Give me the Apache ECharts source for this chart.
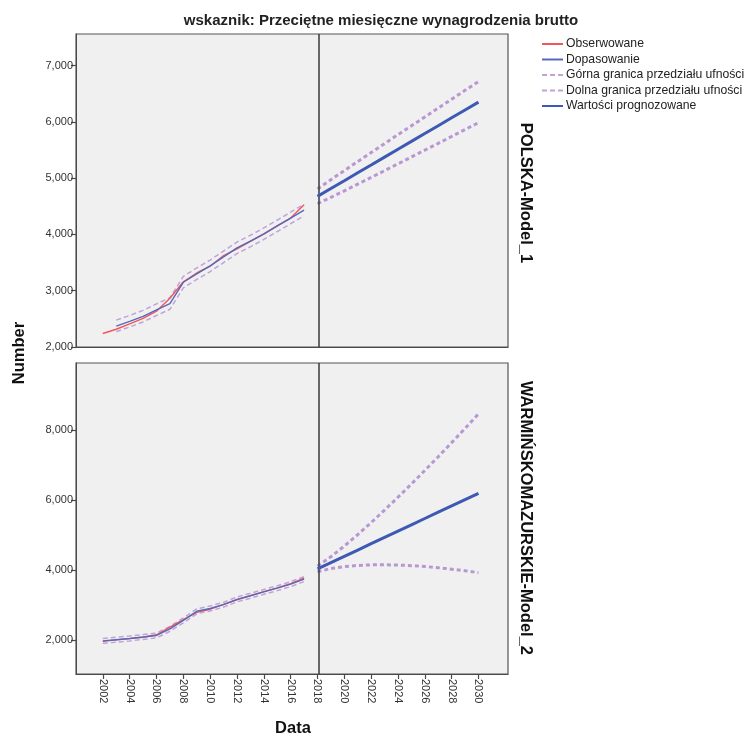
<!DOCTYPE html>
<html>
<head>
<meta charset="utf-8">
<script src="https://cdn.jsdelivr.net/npm/echarts@6/dist/echarts.min.js"></script>
<style>
html,body{margin:0;padding:0;background:#fff;}
#c{width:751px;height:735px;}
</style>
</head>
<body>
<div id="c"></div>
<script>
// ---------- data ----------
const yearsObs = [2002,2003,2004,2005,2006,2007,2008,2009,2010,2011,2012,2013,2014,2015,2016,2017];
const yearsFit1 = [2003,2004,2005,2006,2007,2008,2009,2010,2011,2012,2013,2014,2015,2016,2017];
const yearsFc = [2018,2019,2020,2021,2022,2023,2024,2025,2026,2027,2028,2029,2030];
const xTicks = [2002,2004,2006,2008,2010,2012,2014,2016,2018,2020,2022,2024,2026,2028,2030];
const yTicks1 = [2000,3000,4000,5000,6000,7000];
const yTicks2 = [2000,4000,6000,8000];

// POLSKA-Model_1
const pl_obs   = [2240,2315,2410,2507,2637,2866,3158,3315,3435,3625,3744,3877,4004,4151,4291,4528];
const pl_fit   = [2372,2455,2545,2660,2770,3150,3300,3440,3600,3760,3880,4010,4150,4290,4430];
const pl_upHist= [2477,2560,2650,2765,2875,3255,3405,3545,3705,3865,3985,4115,4255,4395,4535];
const pl_loHist= [2272,2355,2445,2560,2670,3050,3200,3340,3500,3660,3780,3910,4050,4190,4330];
const pl_fc    = [4675,4815,4954,5094,5233,5373,5513,5652,5792,5931,6071,6211,6350];
const pl_upFc  = [4805,4972,5134,5295,5454,5613,5772,5929,6087,6244,6402,6559,6715];
const pl_loFc  = [4545,4658,4774,4893,5012,5133,5254,5375,5497,5618,5740,5863,5985];

// WARMIŃSKOMAZURSKIE-Model_2
const wm_obs   = [1960,2005,2040,2080,2150,2370,2580,2790,2880,3020,3150,3270,3380,3490,3610,3770];
const wm_fit   = [1975,2010,2045,2085,2130,2320,2560,2820,2900,3010,3160,3265,3375,3480,3595,3740];
const wm_upHist= [2045,2080,2115,2155,2200,2390,2630,2890,2970,3080,3230,3335,3445,3550,3665,3810];
const wm_loHist= [1905,1940,1975,2015,2060,2250,2490,2750,2830,2940,3090,3195,3305,3410,3525,3670];
const wm_fc    = [4030,4210,4390,4570,4750,4930,5110,5290,5470,5650,5830,6010,6190];
const wm_upFc  = [4110,4377,4683,5011,5354,5711,6078,6456,6841,7235,7636,8042,8457];
const wm_loFc  = [3950,4043,4097,4129,4146,4149,4142,4124,4099,4065,4024,3978,3923];

const names = ['Obserwowane','Dopasowanie','Górna granica przedziału ufności','Dolna granica przedziału ufności','Wartości prognozowane'];

// ---------- styles ----------
const RED = '#f0575a', BLUE = '#5568bd', BLUE2 = '#3d59b3', PURP = '#c2a3d8', PURP2 = '#b898d2';
const FONT = 'Liberation Sans, Arial, sans-serif';

const zip = (xs, ys) => xs.map((x, i) => [x, ys[i]]);

function panelSeries(gi, obs, fitYears, fit, up, lo, fc, upFc, loFc) {
  const base = {type:'line', xAxisIndex:gi, yAxisIndex:gi, symbol:'none', silent:true, animation:false};
  return [
    Object.assign({}, base, {name:names[0], data:zip(yearsObs, obs), z:5,
      lineStyle:{color:RED, width:1.4}, itemStyle:{color:RED},
      markLine:{silent:true, symbol:'none', label:{show:false}, animation:false,
        lineStyle:{color:'#3a3a3a', width:1.5, type:'solid'}, data:[{xAxis:2018.1}]}}),
    Object.assign({}, base, {name:names[1], data:zip(fitYears, fit), z:6,
      lineStyle:{color:BLUE, width:1.4}, itemStyle:{color:BLUE}}),
    Object.assign({}, base, {name:names[2], data:zip(fitYears, up), z:4,
      lineStyle:{color:PURP, width:1.5, type:[5,3]}, itemStyle:{color:PURP}}),
    Object.assign({}, base, {name:names[3], data:zip(fitYears, lo), z:4,
      lineStyle:{color:PURP, width:1.5, type:[5,3]}, itemStyle:{color:PURP}}),
    Object.assign({}, base, {name:names[4], data:zip(yearsFc, fc), z:6,
      lineStyle:{color:BLUE2, width:3}, itemStyle:{color:BLUE2}}),
    Object.assign({}, base, {name:names[2], data:zip(yearsFc, upFc), z:4,
      lineStyle:{color:PURP2, width:3, type:[4,3]}, itemStyle:{color:PURP}}),
    Object.assign({}, base, {name:names[3], data:zip(yearsFc, loFc), z:4,
      lineStyle:{color:PURP2, width:3, type:[4,3]}, itemStyle:{color:PURP}})
  ];
}

function xAxisCfg(gi, showLabels) {
  return {
    type:'value', gridIndex:gi, min:2000, max:2032.2,
    axisLine:{show:true, lineStyle:{color:'#4a4a4a', width:1}},
    splitLine:{show:false},
    axisTick:{show:showLabels, length:5, lineStyle:{color:'#4a4a4a', width:1.2}, customValues:xTicks},
    axisLabel:{show:showLabels, rotate:-90, color:'#333', fontSize:11, fontFamily:FONT, margin:5, customValues:xTicks,
      formatter:v => String(v)}
  };
}
function yAxisCfg(gi, min, max, ticks) {
  return {
    type:'value', gridIndex:gi, min:min, max:max,
    axisLine:{show:true, lineStyle:{color:'#4a4a4a', width:1}},
    splitLine:{show:false},
    axisTick:{show:true, length:5, lineStyle:{color:'#4a4a4a', width:1.2}, customValues:ticks},
    axisLabel:{color:'#333', fontSize:11, fontFamily:FONT, margin:3, customValues:ticks,
      formatter:v => v.toLocaleString('en-US')}
  };
}

const chart = echarts.init(document.getElementById('c'), null, {renderer:'canvas'});
chart.setOption({
  backgroundColor:'#ffffff',
  animation:false,
  title:{text:'wskaznik: Przeciętne miesięczne wynagrodzenia brutto', left:376, top:8, textAlign:'center',
    textStyle:{fontSize:15, fontWeight:'bold', color:'#222', fontFamily:FONT}},
  legend:{data:names, orient:'vertical', left:541, top:37, padding:0, itemWidth:21, itemHeight:10, itemGap:1.5,
    itemStyle:{opacity:0},
    textStyle:{fontSize:12.2, lineHeight:14, color:'#222', fontFamily:FONT, padding:[0,0,0,-2]}, selectedMode:false},
  grid:[
    {left:76, top:34, width:432, height:313, show:true, backgroundColor:'#f0f0f0', borderColor:'#555', borderWidth:1.2},
    {left:76, top:363, width:432, height:311, show:true, backgroundColor:'#f0f0f0', borderColor:'#555', borderWidth:1.2}
  ],
  xAxis:[xAxisCfg(0,false), xAxisCfg(1,true)],
  yAxis:[yAxisCfg(0,2000,7560,yTicks1), yAxisCfg(1,1030,9910,yTicks2)],
  series:[].concat(
    panelSeries(0, pl_obs, yearsFit1, pl_fit, pl_upHist, pl_loHist, pl_fc, pl_upFc, pl_loFc),
    panelSeries(1, wm_obs, yearsObs, wm_fit, wm_upHist, wm_loHist, wm_fc, wm_upFc, wm_loFc)
  ),
  graphic:[
    {type:'text', x:19, y:353, rotation:Math.PI/2, style:{text:'Number', font:'bold 16.5px '+FONT, fill:'#111', textAlign:'center', textVerticalAlign:'middle'}},
    {type:'text', x:293, y:728, style:{text:'Data', font:'bold 16.5px '+FONT, fill:'#111', textAlign:'center', textVerticalAlign:'middle'}},
    {type:'text', x:526, y:193, rotation:-Math.PI/2, style:{text:'POLSKA-Model_1', font:'bold 16.5px '+FONT, fill:'#111', textAlign:'center', textVerticalAlign:'middle'}},
    {type:'text', x:526, y:518, rotation:-Math.PI/2, style:{text:'WARMIŃSKOMAZURSKIE-Model_2', font:'bold 16.5px '+FONT, fill:'#111', textAlign:'center', textVerticalAlign:'middle'}}
  ]
});
</script>
</body>
</html>
